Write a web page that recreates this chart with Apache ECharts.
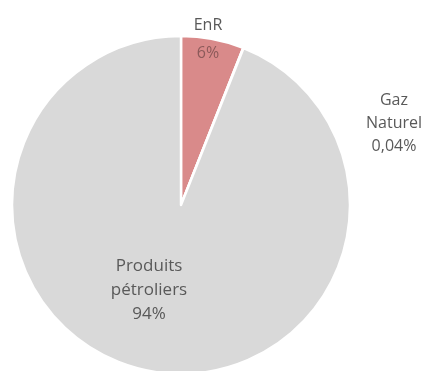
<!DOCTYPE html>
<html><head><meta charset="utf-8">
<script src="https://cdn.jsdelivr.net/npm/echarts@6/dist/echarts.min.js"></script>
<style>html,body{margin:0;padding:0;background:#fff}#c{width:429px;height:371px}</style>
</head><body><div id="c"></div>
<script>
var categories = ['EnR', 'Gaz Naturel', 'Produits pétroliers'];
var values = [6, 0.04, 94];
var valueLabels = ['6%', '0,04%', '94%'];
var labelLines = [['EnR'], ['Gaz', 'Naturel'], ['Produits', 'pétroliers']];
var colors = ['#d98a8a', '#d9d9d9', '#d9d9d9'];

var labelPos = [[208, 39], [394, 123], [149, 290]];
var chart = echarts.init(document.getElementById('c'));
chart.setOption({
  animation: false,
  series: [{
    type: 'pie',
    center: [181, 205],
    radius: 169,
    startAngle: 90,
    clockwise: true,
    avoidLabelOverlap: false,
    itemStyle: {borderColor: '#ffffff', borderWidth: 2.5},
    data: categories.map(function (c, i) {
      return {name: c, value: values[i], itemStyle: {color: colors[i]}};
    }),
    label: {
      show: true,
      position: 'outside',
      fontFamily: 'Open Sans',
      fontSize: 16,
      color: '#595959',
      lineHeight: 23,
      align: 'center',
      formatter: function (p) {
        var i = p.dataIndex;
        if (i === 0) return '{a|' + labelLines[i].join('\n') + '}\n{b|' + valueLabels[i] + '}';
        if (i === 2) return '{c|' + labelLines[i].join('\n') + '\n' + valueLabels[i] + '}';
        return labelLines[i].join('\n') + '\n' + valueLabels[i];
      },
      rich: {
        a: {fontFamily: 'Open Sans', fontSize: 16, color: '#595959', lineHeight: 28},
        b: {fontFamily: 'Open Sans', fontSize: 16, color: '#8c5a5a', lineHeight: 28},
        c: {fontFamily: 'Open Sans', fontSize: 17, color: '#595959', lineHeight: 24}
      }
    },
    labelLine: {show: false},
    labelLayout: function (p) {
      var pos = labelPos[p.dataIndex];
      return {x: pos[0], y: pos[1], align: 'center', verticalAlign: 'middle'};
    },
    emphasis: {disabled: true}
  }]
});
</script></body></html>
